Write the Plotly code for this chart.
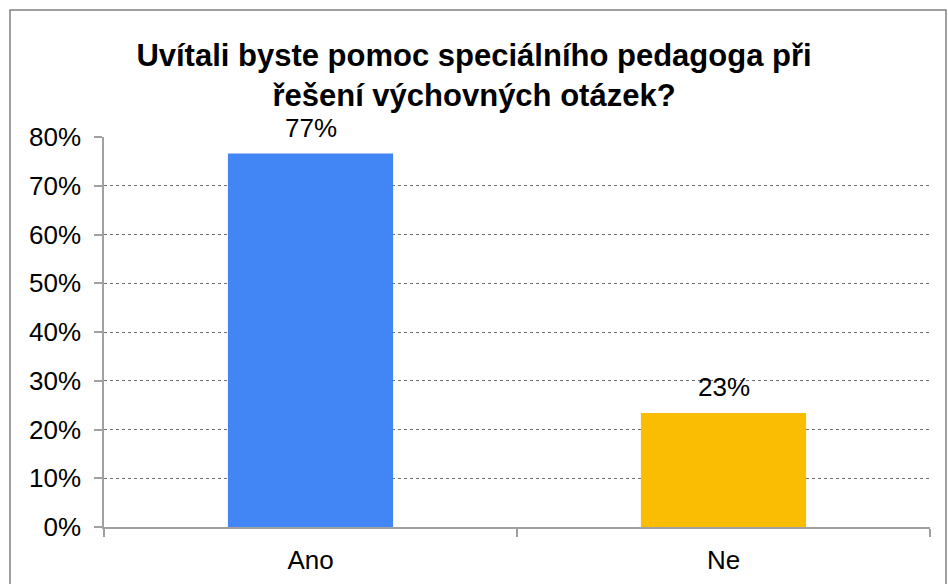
import plotly.graph_objects as go

categories = ["Ano", "Ne"]
values = [76.6, 23.4]
labels = ["77%", "23%"]
colors = ["#4285F4", "#FBBC04"]
title_text = "Uvítali byste pomoc speciálního pedagoga při<br>řešení výchovných otázek?"
y_ticks = [0, 10, 20, 30, 40, 50, 60, 70, 80]
y_tick_labels = [f"{v}%" for v in y_ticks]

W, H = 948, 584
ml, mr, mt, mb = 104, 18, 137, 57
pw, ph = W - ml - mr, H - mt - mb

fig = go.Figure(go.Bar(
    x=categories, y=values, marker_color=colors, marker_line_width=0,
    hoverinfo="x+y",
))

for c, v, t in zip(categories, values, labels):
    fig.add_annotation(x=c, y=v, text=t, showarrow=False, yanchor="bottom",
                       yshift=9, font=dict(size=26, color="#000000"))

fig.update_layout(
    width=W, height=H,
    margin=dict(l=ml, r=mr, t=mt, b=mb, autoexpand=False),
    paper_bgcolor="white", plot_bgcolor="white",
    font=dict(family="Liberation Sans, Arial, sans-serif", color="#000000", size=26),
    title=dict(text="<b>" + title_text + "</b>", x=0.5, xref="container", xanchor="center",
               y=1 - 66 / H, yref="container", yanchor="middle",
               font=dict(size=31, color="#000000")),
    bargap=0.6,
    showlegend=False,
    xaxis=dict(showline=True, linecolor="#A0A0A0", linewidth=1.5, ticks="outside",
               tickson="boundaries", ticklen=8, tickcolor="#A0A0A0", tickwidth=1.5,
               showgrid=False, tickfont=dict(size=26), ticklabelstandoff=9),
    yaxis=dict(range=[0, 80], tickvals=y_ticks, ticktext=y_tick_labels,
               showline=True, linecolor="#A0A0A0", linewidth=1.5, ticks="outside",
               ticklen=8, tickcolor="#A0A0A0", tickwidth=1.5,
               showgrid=True, gridcolor="#707070", gridwidth=1, griddash="dot",
               zeroline=False, tickfont=dict(size=26), ticklabelstandoff=8),
)

# outer chart border
fig.add_shape(type="rect", xref="paper", yref="paper",
              x0=(10 - ml) / pw, x1=(946 - ml) / pw,
              y0=(H - mb - 600) / ph, y1=(H - mb - 10) / ph,
              line=dict(color="#808080", width=1.5), fillcolor="rgba(0,0,0,0)", layer="below")

fig.write_html("out.html", config={"displayModeBar": False},
               post_script="document.body.style.margin='0';")
